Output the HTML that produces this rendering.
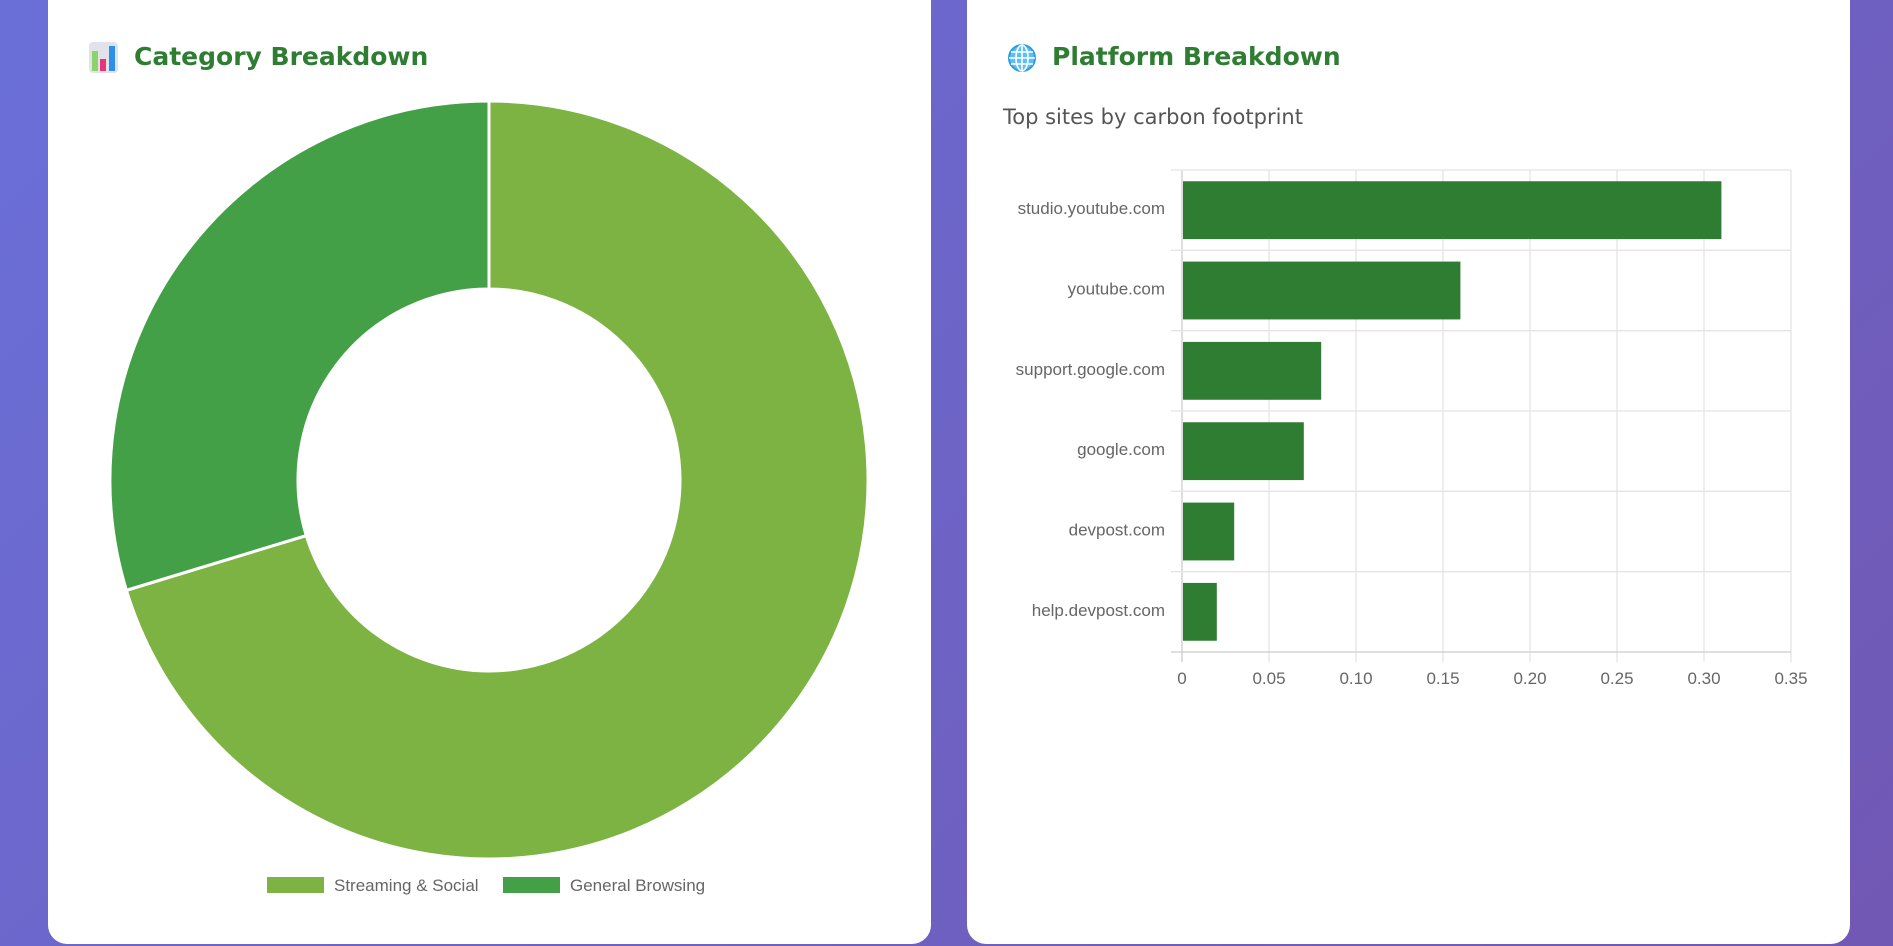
<!DOCTYPE html>
<html><head><meta charset="utf-8"><style>
html,body{margin:0;padding:0;}
body{width:1893px;height:946px;overflow:hidden;background:linear-gradient(135deg,#6a6fd8,#7158b4);position:relative;font-family:"Liberation Sans",sans-serif;}
.card{position:absolute;top:-30px;height:974px;background:#fff;border-radius:19px;}
.title{position:absolute;font-size:25px;font-weight:bold;color:#2e7d32;font-family:"DejaVu Sans","Liberation Sans",sans-serif;}
</style></head><body>
<div class="card" style="left:48px;width:883px;"></div>
<div class="card" style="left:967px;width:883px;"></div>

<svg style="position:absolute;left:89px;top:42px" width="29" height="31" viewBox="0 0 29 31">
<rect x="0" y="0" width="29" height="31" rx="4" fill="#e2e2ea"/>
<rect x="3" y="9" width="6" height="20" fill="#8bd36b"/><rect x="11" y="17" width="6" height="12" fill="#e8357a"/><rect x="20" y="4" width="6" height="25" fill="#2e8fe8"/>
</svg>
<div class="title" style="left:134px;top:42px;">Category Breakdown</div>

<svg style="position:absolute;left:1007px;top:43px" width="30" height="30" viewBox="0 0 30 30">
<circle cx="15" cy="15" r="13" fill="#5cc0f5" stroke="#2e9be0" stroke-width="2"/>
<g stroke="#fff" stroke-width="1.6" fill="none"><ellipse cx="15" cy="15" rx="6" ry="13"/><line x1="15" y1="2" x2="15" y2="28"/><line x1="2" y1="15" x2="28" y2="15"/><line x1="4" y1="9" x2="26" y2="9"/><line x1="4" y1="21" x2="26" y2="21"/></g>
</svg>
<div class="title" style="left:1052px;top:42px;">Platform Breakdown</div>
<div style="position:absolute;left:1003px;top:105px;font-size:21px;color:#555;font-family:'DejaVu Sans','Liberation Sans',sans-serif;">Top sites by carbon footprint</div>

<svg id="donut" style="position:absolute;left:0;top:0" width="960" height="946"></svg>
<svg id="bars" style="position:absolute;left:960px;top:0" width="933" height="946"></svg>

<script>
const catLabels=["Streaming & Social","General Browsing"];
const catValues=[70.3,29.7];
const catColors=["#7cb342","#43a047"];
const siteLabels=["studio.youtube.com","youtube.com","support.google.com","google.com","devpost.com","help.devpost.com"];
const siteValues=[0.31,0.16,0.08,0.07,0.03,0.02];
const xTicks=[0,0.05,0.10,0.15,0.20,0.25,0.30,0.35];
const xTickLabels=["0","0.05","0.10","0.15","0.20","0.25","0.30","0.35"];
const NS="http://www.w3.org/2000/svg";
function mk(p,t,a){const e=document.createElementNS(NS,t);for(const k in a)e.setAttribute(k,a[k]);p.appendChild(e);return e;}

// donut
const d=document.getElementById('donut');
const cx=489,cy=480,R=379,r=191;
const tot=catValues.reduce((a,b)=>a+b,0);
let ang=0;
catValues.forEach((v,i)=>{
 const a0=ang,a1=ang+v/tot*2*Math.PI;ang=a1;
 const p=(rad,a)=>[cx+rad*Math.sin(a),cy-rad*Math.cos(a)];
 const [x0,y0]=p(R,a0),[x1,y1]=p(R,a1),[x2,y2]=p(r,a1),[x3,y3]=p(r,a0);
 const lg=(a1-a0)>Math.PI?1:0;
 const s=mk(d,'path',{d:`M${x0},${y0}A${R},${R} 0 ${lg} 1 ${x1},${y1}L${x2},${y2}A${r},${r} 0 ${lg} 0 ${x3},${y3}Z`,fill:catColors[i],stroke:'#fff','stroke-width':3});
 
 
});
const legX=[267,503];
catLabels.forEach((l,i)=>{
 const b=mk(d,'rect',{x:legX[i],y:877,width:57,height:16,fill:catColors[i]});
 
 
 const t=mk(d,'text',{x:legX[i]+67,y:891,'font-size':17,fill:'#666','font-family':'Liberation Sans, sans-serif'});
 t.textContent=l;
 
 
});

// bars
const g=document.getElementById('bars');
const X0=1182-960,X1=1791-960,T=170,B=652;
const xs=v=>X0+(v/0.35)*(X1-X0);
const band=(B-T)/siteLabels.length;
xTicks.forEach((v,i)=>{
 mk(g,'line',{x1:xs(v),x2:xs(v),y1:T,y2:B+10,stroke:i==0?'#ccc':'#e4e4e4','stroke-width':1.3});
 const t=mk(g,'text',{x:xs(v),y:684,'text-anchor':'middle','font-size':17,fill:'#666','font-family':'Liberation Sans, sans-serif'});
 t.textContent=xTickLabels[i];
 
 
});
for(let i=0;i<=siteLabels.length;i++){
 mk(g,'line',{x1:X0-11,x2:X1,y1:T+i*band,y2:T+i*band,stroke:i==siteLabels.length?'#ccc':'#e4e4e4','stroke-width':1.3});
}
siteLabels.forEach((l,i)=>{
 const yc=T+band*(i+0.5);
 const bh=band*0.72;
 const b=mk(g,'rect',{x:X0+1,y:yc-bh/2,width:xs(siteValues[i])-X0-1,height:bh,fill:'#2e7d32'});
 
 
 const t=mk(g,'text',{x:X0-17,y:yc+4,'text-anchor':'end','font-size':17,fill:'#666','font-family':'Liberation Sans, sans-serif'});
 t.textContent=l;
 
 
});
</script>
</body></html>
